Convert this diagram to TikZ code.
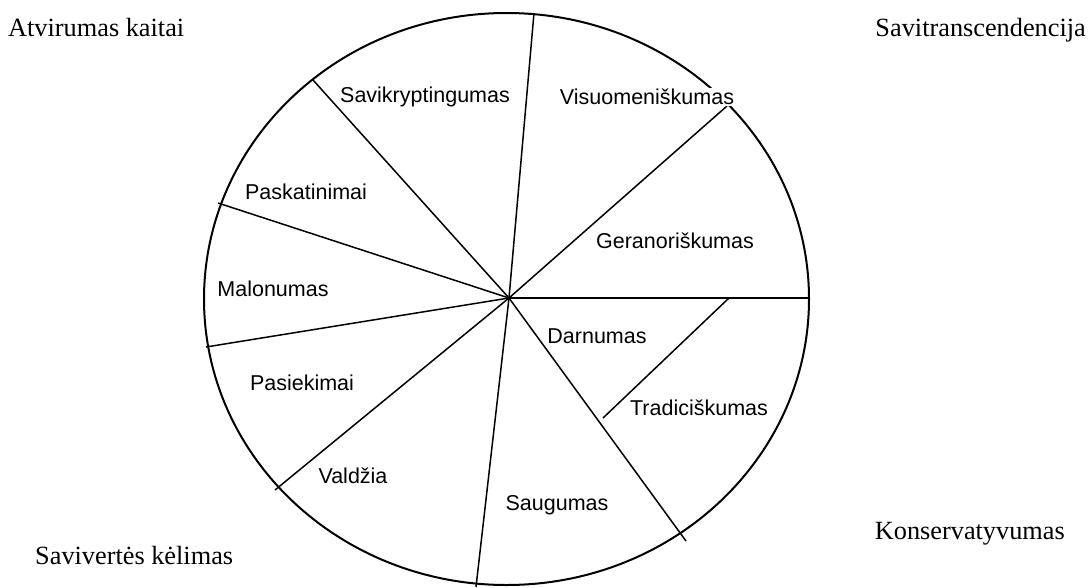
\documentclass[tikz,border=0pt]{standalone}
\usepackage{fontspec}
\setmainfont{Liberation Serif}
\newfontfamily\lsans{Liberation Sans}
\begin{document}
\begin{tikzpicture}[x=1pt,y=-1pt,
  lab/.style={font=\lsans\fontsize{21.5}{24}\selectfont, fill=white, inner sep=1pt},
  corner/.style={font=\fontsize{26.3}{29}\selectfont, inner sep=0pt},
  rad/.style={line width=1.5pt},
  rim/.style={line width=2pt}]
\useasboundingbox (0,0) rectangle (1088,587);
\coordinate (c) at (509,298);
\draw[rim] (506.5,299) ellipse [x radius=302.5, y radius=286];
\coordinate (pT) at (534,13);
\coordinate (pUR) at (727,106);
\coordinate (pR) at (809,298);
\coordinate (pDR) at (686,541);
\coordinate (pB) at (476,587);
\coordinate (pDL) at (275,490);
\coordinate (pLL) at (206,347);
\coordinate (pLU) at (218,203);
\coordinate (pUL) at (313,80);
\coordinate (dA) at (729,298);
\coordinate (dB) at (603,418);
\foreach \p in {pT,pUR,pR,pDR,pB,pDL,pLL,pLU,pUL} \draw[rad] (c) -- (\p);
\draw[rad] (dA) -- (dB);
\node[lab] (n1) at (425,97) {Savikryptingumas};
\node[lab] (n2) at (647,97) {Visuomeniškumas};
\node[lab] (n3) at (675,241) {Geranoriškumas};
\node[lab] (n4) at (306,192) {Paskatinimai};
\node[lab] (n5) at (273,289) {Malonumas};
\node[lab] (n6) at (597,336) {Darnumas};
\node[lab] (n7) at (699,408) {Tradiciškumas};
\node[lab] (n8) at (302,383) {Pasiekimai};
\node[lab] (n9) at (353,476) {Valdžia};
\node[lab] (n10) at (557,505) {Saugumas};
\node[corner, anchor=base west] (k1) at (8,36) {Atvirumas kaitai};
\node[corner, anchor=base east] (k2) at (1086,36) {Savitranscendencija};
\node[corner, anchor=base west] (k3) at (35,564) {Savivertės kėlimas};
\node[corner, anchor=base east] (k4) at (1065,539) {Konservatyvumas};
\end{tikzpicture}
\end{document}
